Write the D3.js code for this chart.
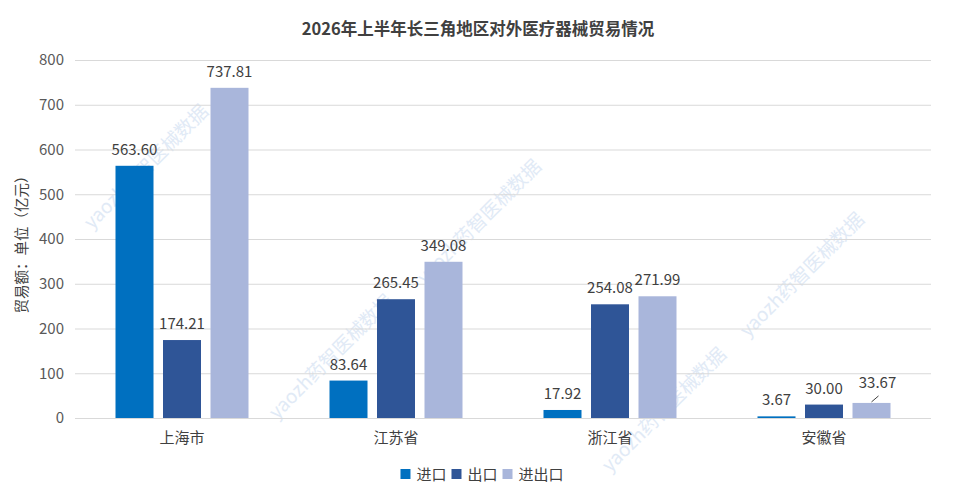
<!DOCTYPE html>
<html>
<head>
<meta charset="utf-8">
<script src="https://cdn.jsdelivr.net/npm/d3@7/dist/d3.min.js"></script>
<style>
  html, body { margin: 0; padding: 0; background: #fff; }
  svg { display: block; font-family: "Noto Sans CJK SC", "Noto Sans", sans-serif; }
</style>
</head>
<body>
<div id="chart"></div>
<script>
// --- data ---
const provinces = ["上海市", "江苏省", "浙江省", "安徽省"];
const seriesNames = ["进口", "出口", "进出口"];
const importVals = [563.60, 83.64, 17.92, 3.67];
const exportVals = [174.21, 265.45, 254.08, 30.00];
const totalVals = [737.81, 349.08, 271.99, 33.67];
const yTicks = [0, 100, 200, 300, 400, 500, 600, 700, 800];
const colors = ["#0070C0", "#2F5597", "#A9B6DB"];

const W = 953, H = 500;
const svg = d3.select("#chart").append("svg").attr("width", W).attr("height", H);

// faint diagonal watermarks, drawn first so everything sits on top
const marks = [[92, 230], [277, 420], [425, 285], [610, 473], [748, 338]];
svg.append("g").selectAll("text").data(marks).join("text")
  .attr("transform", d => `translate(${d[0]},${d[1]}) rotate(-45)`)
  .attr("font-size", 19)
  .attr("fill", "#e1eaf6")
  .text("yaozh药智医械数据");

const x = d3.scaleBand().domain(provinces).range([75, 931]);
const xs = d3.scaleBand().domain(seriesNames)
  .range([x.bandwidth() / 2 - 66.5, x.bandwidth() / 2 + 66.5]).paddingInner(0.2);
const y = d3.scaleLinear().domain([0, 800]).range([418, 60]);

// gridlines + tick labels
const yAxis = svg.append("g")
  .attr("transform", "translate(75,0)")
  .call(d3.axisLeft(y).tickValues(yTicks).tickSize(-856).tickPadding(11));
yAxis.select(".domain").remove();
yAxis.selectAll(".tick line").attr("stroke", "#d9d9d9").attr("stroke-width", 1);
yAxis.selectAll(".tick text")
  .attr("font-size", 15).attr("fill", "#595959")
  .attr("font-family", "'Noto Sans CJK SC', sans-serif");

// category labels
svg.append("g").selectAll("text").data(provinces).join("text")
  .attr("x", d => x(d) + x.bandwidth() / 2)
  .attr("y", 443)
  .attr("text-anchor", "middle")
  .attr("font-size", 15)
  .attr("fill", "#404040")
  .text(d => d);

// bars
const series = [importVals, exportVals, totalVals];
const rows = [];
series.forEach((vals, si) => {
  vals.forEach((v, pi) => rows.push({ p: provinces[pi], s: seriesNames[si], si, v }));
});

svg.append("g").selectAll("rect").data(rows).join("rect")
  .attr("x", d => x(d.p) + xs(d.s))
  .attr("y", d => y(d.v))
  .attr("width", xs.bandwidth())
  .attr("height", d => y(0) - y(d.v))
  .attr("fill", d => colors[d.si]);

// value labels; one label was dragged a little in the original, with a leader line
const nudge = { "安徽省|进出口": [6, -4] };
const lab = svg.append("g");
rows.forEach(d => {
  const cx = x(d.p) + xs(d.s) + xs.bandwidth() / 2;
  const n = nudge[d.p + "|" + d.s] || [0, 0];
  lab.append("text")
    .attr("x", cx + n[0])
    .attr("y", y(d.v) - 11 + n[1])
    .attr("text-anchor", "middle")
    .attr("font-size", 15)
    .attr("fill", "#404040")
    .text(d.v.toFixed(2));
  if (n[0] || n[1]) {
    lab.append("line")
      .attr("x1", cx).attr("y1", y(d.v) - 1)
      .attr("x2", cx + 7).attr("y2", y(d.v) - 7)
      .attr("stroke", "#404040").attr("stroke-width", 1);
  }
});

// title
svg.append("text")
  .attr("x", 478).attr("y", 35)
  .attr("text-anchor", "middle")
  .attr("font-size", 16.5)
  .attr("font-weight", "bold")
  .attr("fill", "#404040")
  .text("2026年上半年长三角地区对外医疗器械贸易情况");

// y axis title
svg.append("text")
  .attr("transform", "translate(27,241) rotate(-90)")
  .attr("text-anchor", "middle")
  .attr("font-size", 14.5)
  .attr("fill", "#404040")
  .text("贸易额：单位（亿元）");

// legend, centred under the plot
const legend = svg.append("g");
let lx = 0;
seriesNames.forEach((name, i) => {
  const g = legend.append("g").attr("transform", `translate(${lx},0)`);
  g.append("rect").attr("x", 0).attr("y", -5).attr("width", 10).attr("height", 10).attr("fill", colors[i]);
  const t = g.append("text").attr("x", 16).attr("y", 5.5)
    .attr("font-size", 15).attr("fill", "#404040").text(name);
  lx += 16 + t.node().getComputedTextLength() + 5;
});
legend.attr("transform", `translate(${482 - (lx - 5) / 2},474)`);
</script>
</body>
</html>
